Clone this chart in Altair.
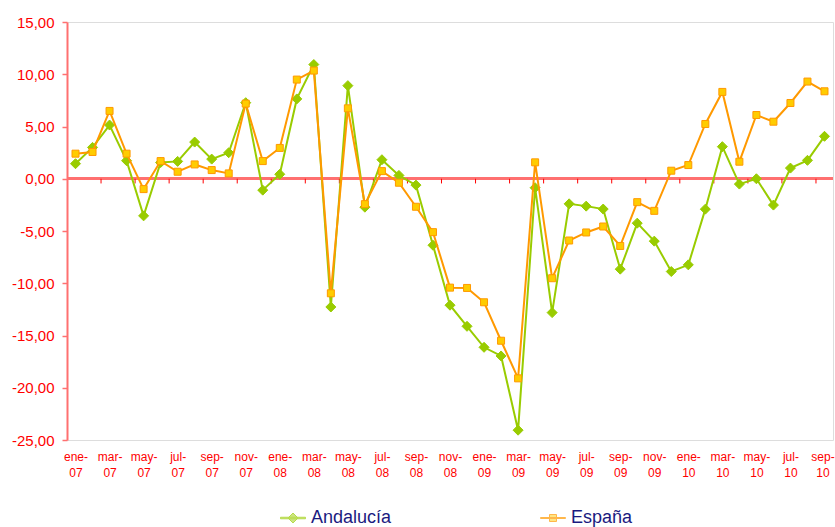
import json
import altair as alt
import pandas as pd

# Monthly labels, Jan 2007 - Sep 2010
MESES = ["ene", "feb", "mar", "abr", "may", "jun", "jul", "ago", "sep", "oct", "nov", "dic"]
PERIODOS = [f"{m}-{a}" for a in ["07", "08", "09", "10"] for m in MESES][:45]

SERIES = ["Andalucía", "España"]

andalucia = [1.44, 3.00, 5.14, 1.73, -3.55, 1.55, 1.66, 3.51, 1.88, 2.49, 7.28, -1.09,
             0.43, 7.64, 10.93, -12.27, 8.91, -2.72, 1.82, 0.32, -0.61, -6.36, -12.10, -14.12,
             -16.13, -16.96, -24.06, -0.86, -12.81, -2.40, -2.62, -2.90, -8.65, -4.25, -5.97, -8.88,
             -8.24, -2.91, 3.07, -0.51, 0.00, -2.52, 1.02, 1.76, 4.06]

espana = [2.40, 2.56, 6.49, 2.40, -0.99, 1.69, 0.67, 1.37, 0.83, 0.51, 7.19, 1.69,
          2.95, 9.49, 10.35, -10.96, 6.74, -2.43, 0.73, -0.38, -2.68, -5.11, -10.42, -10.45,
          -11.82, -15.50, -19.10, 1.57, -9.52, -5.91, -5.14, -4.57, -6.43, -2.24, -3.07, 0.77,
          1.31, 5.24, 8.31, 1.63, 6.10, 5.46, 7.25, 9.30, 8.37]

GREEN = "#99CC00"
ORANGE = "#FF9900"
YELLOW = "#FFCC00"
RED = "#FF0000"
AXIS_RED = "#FF7070"
FONT = "Liberation Sans"

rows = []
for i, p in enumerate(PERIODOS):
    rows.append({"idx": i, "periodo": p, "serie": SERIES[0], "valor": andalucia[i]})
    rows.append({"idx": i, "periodo": p, "serie": SERIES[1], "valor": espana[i]})
df = pd.DataFrame(rows)

# category boundaries carrying a tick on the zero line (every two months)
limites = pd.DataFrame({"b": [k - 0.5 for k in range(2, 45, 2)]})

x_label_expr = (
    f"[split({json.dumps(PERIODOS)}[datum.value], '-')[0] + '-', "
    f"split({json.dumps(PERIODOS)}[datum.value], '-')[1]]"
)

x_scale = alt.Scale(domain=[-0.5, 44.5], nice=False, zero=False)
y_scale = alt.Scale(domain=[-25, 15], nice=False)

x_axis = alt.Axis(
    values=list(range(0, 45, 2)), labelExpr=x_label_expr, title=None,
    ticks=False, domain=False, grid=False, labelColor=RED, labelFont=FONT,
    labelFontSize=12, labelLineHeight=16, labelPadding=11, labelBaseline="top",
    labelAngle=0, labelOverlap=False, labelFlush=False, labelBound=False,
    # keep the last label inside the canvas
    labelOffset={"condition": {"test": f"datum.value == {len(PERIODOS) - 1}", "value": -2}, "value": 0},
)
y_axis = alt.Axis(
    values=list(range(-25, 16, 5)), title=None, grid=False,
    labelExpr="(datum.value < 0 ? '-' : '') + replace(format(abs(datum.value), '.2f'), '.', ',')",
    labelColor=RED, labelFont=FONT, labelFontSize=15, labelPadding=8,
    labelOverlap=False, labelFlush=False,
    tickSize=5, tickColor=AXIS_RED, tickWidth=1.5,
    domainColor=AXIS_RED, domainWidth=2,
)

base = alt.Chart(df)

x_enc = alt.X("idx:Q", scale=x_scale, axis=x_axis)
y_enc = alt.Y("valor:Q", scale=y_scale, axis=y_axis)

zero_line = alt.Chart(df).mark_rule(color=AXIS_RED, strokeWidth=2).encode(
    y=alt.datum(0, scale=y_scale, axis=y_axis)
)

ticks = alt.Chart(limites).mark_rule(color=RED, strokeWidth=1).encode(
    x=alt.X("b:Q", scale=x_scale, axis=x_axis),
    y=alt.datum(0, scale=y_scale, axis=y_axis),
    y2=alt.datum(-0.45),
)

def serie_layers(nombre, color, shape, fill, size):
    d = base.transform_filter(alt.datum.serie == nombre)
    linea = d.mark_line(color=color, strokeWidth=2).encode(x=x_enc, y=y_enc)
    puntos = d.mark_point(shape=shape, filled=True, fill=fill, stroke=color,
                          strokeWidth=1, size=size, opacity=1).encode(x=x_enc, y=y_enc)
    return linea, puntos

l_and, p_and = serie_layers("Andalucía", GREEN, "diamond", GREEN, 100)
l_esp, p_esp = serie_layers("España", ORANGE, "square", YELLOW, 49)

# legend symbols: short line with the series marker on it
sym_and = "M-1,-0.06H1V0.06H-1Z M0,-0.4L0.4,0L0,0.4L-0.4,0Z"
sym_esp = "M-1,-0.04H1V0.04H-1Z M-0.28,-0.28H0.28V0.28H-0.28Z"

leyenda = alt.Legend(
    title=None, orient="none", legendX=213, legendY=483, direction="horizontal",
    symbolSize=625, symbolStrokeWidth=1, labelFont=FONT, labelFontSize=18,
    labelColor="#1A1A80", labelOffset=5, columnPadding=146, padding=0,
)
capa_leyenda = base.transform_filter("false").mark_point(filled=True, strokeWidth=1).encode(
    shape=alt.Shape("serie:N", scale=alt.Scale(domain=SERIES, range=[sym_and, sym_esp]), legend=leyenda),
    fill=alt.Fill("serie:N", scale=alt.Scale(domain=SERIES, range=[GREEN, YELLOW]), legend=leyenda),
    stroke=alt.Stroke("serie:N", scale=alt.Scale(domain=SERIES, range=[GREEN, ORANGE]), legend=leyenda),
)

chart = alt.layer(
    zero_line, ticks, l_and, p_and, l_esp, p_esp, capa_leyenda
).properties(
    width=766, height=418,
    autosize=alt.AutoSizeParams(type="none"),
    padding={"left": 67, "top": 22, "right": 2, "bottom": 87},
).configure_view(stroke=None).configure(background="white")

chart.save("out.html", embed_options={"renderer": "svg", "actions": False})
